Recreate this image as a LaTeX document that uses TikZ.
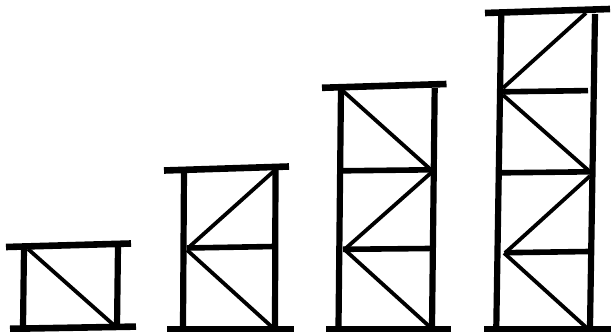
\documentclass[tikz,border=0pt]{standalone}
\begin{document}
\begin{tikzpicture}[x=1pt,y=-1pt,
  bar/.style={line width=6.6pt},
  post/.style={line width=6.2pt},
  rung/.style={line width=5.6pt},
  brace/.style={line width=3.8pt}]
\useasboundingbox (0,0) rectangle (611,332);
% frame 1
\draw[bar] (6,247) -- (131,243.5);
\draw[bar] (10,328.8) -- (136,326.6);
\draw[post] (24,248) -- (23,327);
\draw[post] (118,246) -- (117,327);
\draw[brace] (28,249) -- (116,327);
% frame 2
\draw[bar] (164,170.5) -- (289,166.5);
\draw[bar] (167,329) -- (294,329);
\draw[post] (184,170) -- (183,327);
\draw[post] (275.5,170) -- (275,327);
\draw[rung] (187,248) -- (274,246.5);
\draw[brace] (188,248) -- (274,171);
\draw[brace] (187,250) -- (272,327);
% frame 3
\draw[bar] (322,87.8) -- (446.5,84);
\draw[bar] (326,329.3) -- (451,329.3);
\draw[post] (341,88) -- (338.5,327);
\draw[post] (434.7,88) -- (432,327);
\draw[rung] (342,170.8) -- (431,169.8);
\draw[rung] (343,249.3) -- (430,248.5);
\draw[brace] (343,91) -- (429,168);
\draw[brace] (345,249) -- (432,172);
\draw[brace] (345,250) -- (430,327);
% frame 4
\draw[bar] (485,13) -- (610,9);
\draw[bar] (484,329.7) -- (611,329.7);
\draw[post] (501.3,13) -- (496.3,327);
\draw[post] (595,14) -- (590,327);
\draw[rung] (503,91.8) -- (588,90.6);
\draw[rung] (502,172.8) -- (590,171.8);
\draw[rung] (505,252.7) -- (589,251.5);
\draw[brace] (503,88) -- (586,13);
\draw[brace] (503,95) -- (588,170);
\draw[brace] (505,253) -- (590,176);
\draw[brace] (504,253) -- (588,329);
\end{tikzpicture}
\end{document}
